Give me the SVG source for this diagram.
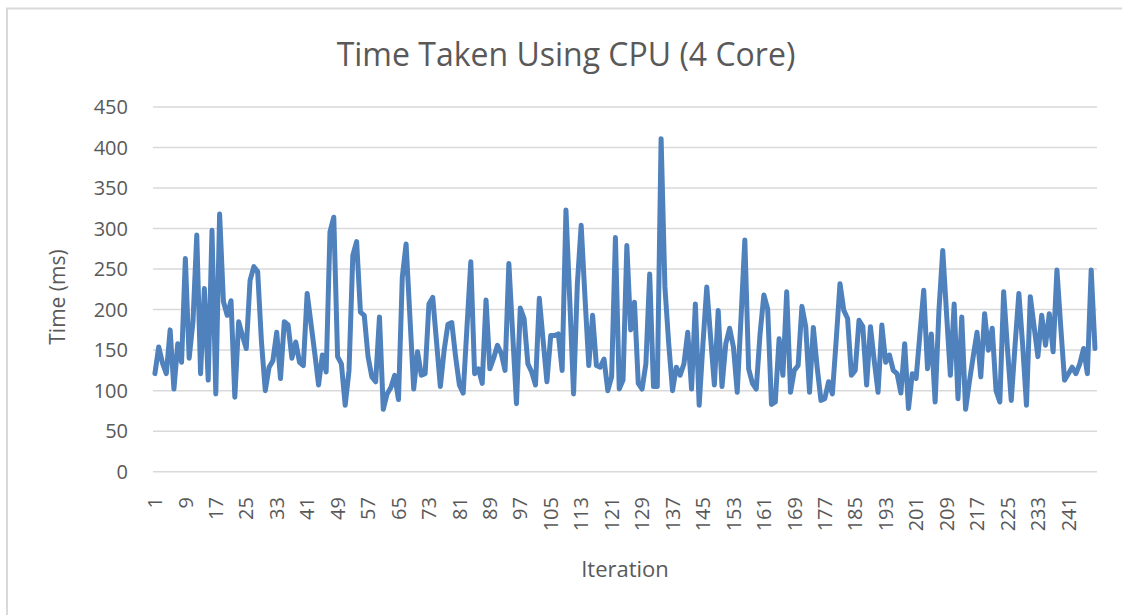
<svg xmlns="http://www.w3.org/2000/svg" width="1122" height="615" viewBox="0 0 1122 615">
  <style>
    .lbl { font-family: "Open Sans", "Liberation Sans", sans-serif; fill: #595959; }
    .tick { font-size: 20px; }
    .ytick { text-anchor: end; }
    .xtick { text-anchor: end; }
    .grid { stroke: #d9d9d9; stroke-width: 1.5; }
    .series { fill: none; stroke: #4f81bd; stroke-width: 5; stroke-linejoin: round; stroke-linecap: round; }
  </style>
  <rect x="0" y="0" width="1122" height="615" fill="#ffffff"/>
  <rect x="7" y="8.5" width="1125" height="620" fill="none" stroke="#d9d9d9" stroke-width="2"/>

  <g id="title">
    <text class="lbl" x="566" y="66" font-size="32" text-anchor="middle">Time Taken Using CPU (4 Core)</text>
  </g>

  <g id="gridlines">
    <line class="grid" x1="153" y1="471.7" x2="1097" y2="471.7"/>
    <line class="grid" x1="153" y1="431.2" x2="1097" y2="431.2"/>
    <line class="grid" x1="153" y1="390.7" x2="1097" y2="390.7"/>
    <line class="grid" x1="153" y1="350.1" x2="1097" y2="350.1"/>
    <line class="grid" x1="153" y1="309.6" x2="1097" y2="309.6"/>
    <line class="grid" x1="153" y1="269.1" x2="1097" y2="269.1"/>
    <line class="grid" x1="153" y1="228.6" x2="1097" y2="228.6"/>
    <line class="grid" x1="153" y1="188.0" x2="1097" y2="188.0"/>
    <line class="grid" x1="153" y1="147.5" x2="1097" y2="147.5"/>
    <line class="grid" x1="153" y1="107.0" x2="1097" y2="107.0"/>
  </g>

  <g id="y-axis">
    <text class="lbl tick ytick" x="128" y="478.7">0</text>
    <text class="lbl tick ytick" x="128" y="438.2">50</text>
    <text class="lbl tick ytick" x="128" y="397.7">100</text>
    <text class="lbl tick ytick" x="128" y="357.1">150</text>
    <text class="lbl tick ytick" x="128" y="316.6">200</text>
    <text class="lbl tick ytick" x="128" y="276.1">250</text>
    <text class="lbl tick ytick" x="128" y="235.6">300</text>
    <text class="lbl tick ytick" x="128" y="195.0">350</text>
    <text class="lbl tick ytick" x="128" y="154.5">400</text>
    <text class="lbl tick ytick" x="128" y="114.0">450</text>
    <text class="lbl" font-size="21" text-anchor="middle" transform="translate(65,297) rotate(-90)">Time (ms)</text>
  </g>

  <g id="x-axis">
    <text class="lbl tick xtick" transform="translate(162.0,497) rotate(-90)">1</text>
    <text class="lbl tick xtick" transform="translate(192.5,497) rotate(-90)">9</text>
    <text class="lbl tick xtick" transform="translate(222.9,497) rotate(-90)">17</text>
    <text class="lbl tick xtick" transform="translate(253.4,497) rotate(-90)">25</text>
    <text class="lbl tick xtick" transform="translate(283.8,497) rotate(-90)">33</text>
    <text class="lbl tick xtick" transform="translate(314.3,497) rotate(-90)">41</text>
    <text class="lbl tick xtick" transform="translate(344.7,497) rotate(-90)">49</text>
    <text class="lbl tick xtick" transform="translate(375.2,497) rotate(-90)">57</text>
    <text class="lbl tick xtick" transform="translate(405.6,497) rotate(-90)">65</text>
    <text class="lbl tick xtick" transform="translate(436.1,497) rotate(-90)">73</text>
    <text class="lbl tick xtick" transform="translate(466.5,497) rotate(-90)">81</text>
    <text class="lbl tick xtick" transform="translate(497.0,497) rotate(-90)">89</text>
    <text class="lbl tick xtick" transform="translate(527.4,497) rotate(-90)">97</text>
    <text class="lbl tick xtick" transform="translate(557.9,497) rotate(-90)">105</text>
    <text class="lbl tick xtick" transform="translate(588.3,497) rotate(-90)">113</text>
    <text class="lbl tick xtick" transform="translate(618.8,497) rotate(-90)">121</text>
    <text class="lbl tick xtick" transform="translate(649.2,497) rotate(-90)">129</text>
    <text class="lbl tick xtick" transform="translate(679.7,497) rotate(-90)">137</text>
    <text class="lbl tick xtick" transform="translate(710.1,497) rotate(-90)">145</text>
    <text class="lbl tick xtick" transform="translate(740.6,497) rotate(-90)">153</text>
    <text class="lbl tick xtick" transform="translate(771.0,497) rotate(-90)">161</text>
    <text class="lbl tick xtick" transform="translate(801.5,497) rotate(-90)">169</text>
    <text class="lbl tick xtick" transform="translate(831.9,497) rotate(-90)">177</text>
    <text class="lbl tick xtick" transform="translate(862.4,497) rotate(-90)">185</text>
    <text class="lbl tick xtick" transform="translate(892.8,497) rotate(-90)">193</text>
    <text class="lbl tick xtick" transform="translate(923.3,497) rotate(-90)">201</text>
    <text class="lbl tick xtick" transform="translate(953.7,497) rotate(-90)">209</text>
    <text class="lbl tick xtick" transform="translate(984.2,497) rotate(-90)">217</text>
    <text class="lbl tick xtick" transform="translate(1014.6,497) rotate(-90)">225</text>
    <text class="lbl tick xtick" transform="translate(1045.1,497) rotate(-90)">233</text>
    <text class="lbl tick xtick" transform="translate(1075.5,497) rotate(-90)">241</text>
    <text class="lbl" x="625" y="577" font-size="22" text-anchor="middle">Iteration</text>
  </g>

  <!-- data series in (iteration, ms) units, mapped onto the plot area -->
  <g id="series" transform="matrix(3.806,0,0,-0.8104,151.1,471.7)">
    <polyline class="series" vector-effect="non-scaling-stroke" points="1,121 2,154 3,134 4,121 5,175 6,102 7,158 8,135 9,263 10,140 11,185 12,292 13,121 14,226 15,113 16,298 17,96 18,318 19,210 20,193 21,211 22,92 23,185 24,168 25,152 26,236 27,253 28,247 29,160 30,100 31,129 32,137 33,172 34,115 35,185 36,181 37,140 38,160 39,135 40,131 41,220 42,183 43,146 44,107 45,144 46,123 47,296 48,314 49,142 50,133 51,82 52,125 53,267 54,284 55,197 56,193 57,142 58,117 59,111 60,191 61,77 62,96 63,104 64,119 65,89 66,240 67,281 68,191 69,102 70,148 71,119 72,121 73,207 74,215 75,160 76,105 77,150 78,182 79,184 80,142 81,107 82,97 83,179 84,259 85,121 86,127 87,109 88,212 89,127 90,140 91,156 92,146 93,125 94,257 95,170 96,84 97,202 98,189 99,133 100,123 101,107 102,214 103,162 104,111 105,168 106,168 107,170 108,125 109,323 110,212 111,96 112,232 113,304 114,215 115,131 116,193 117,131 118,129 119,139 120,100 121,117 122,289 123,102 124,113 125,279 126,175 127,209 128,109 129,102 130,133 131,244 132,105 133,105 134,411 135,228 136,158 137,100 138,129 139,119 140,133 141,172 142,102 143,207 144,82 145,158 146,228 147,166 148,107 149,199 150,105 151,158 152,177 153,154 154,98 155,190 156,286 157,127 158,109 159,102 160,170 161,218 162,201 163,83 164,86 165,164 166,119 167,222 168,98 169,125 170,131 171,204 172,179 173,98 174,178 175,129 176,88 177,90 178,111 179,96 180,162 181,232 182,199 183,189 184,119 185,125 186,187 187,179 188,107 189,179 190,137 191,98 192,181 193,135 194,144 195,125 196,121 197,97 198,158 199,78 200,121 201,115 202,170 203,224 204,127 205,170 206,86 207,199 208,273 209,195 210,119 211,207 212,90 213,191 214,77 215,111 216,142 217,172 218,117 219,195 220,150 221,177 222,100 223,86 224,222 225,152 226,88 227,156 228,220 229,156 230,82 231,216 232,179 233,142 234,193 235,156 236,195 237,148 238,249 239,179 240,113 241,121 242,129 243,121 244,133 245,152 246,121 247,249 248,152"/>
  </g>
</svg>
